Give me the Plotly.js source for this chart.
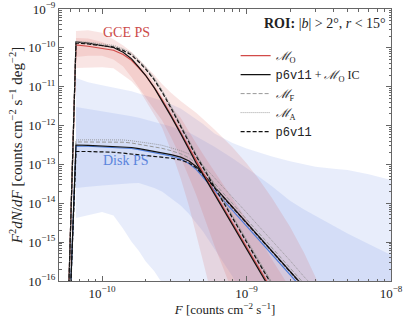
<!DOCTYPE html>
<html>
<head>
<meta charset="utf-8">
<script src="https://cdn.plot.ly/plotly-3.0.1.min.js"></script>
<style>
  html, body { margin: 0; padding: 0; background: #fff; }
  #chart { width: 407px; height: 323px; }
</style>
</head>
<body>
<div id="chart"></div>
<script>
// flux grid [counts cm^-2 s^-1]
var fluxGrid = [6.6e-11, 8e-11, 1e-10, 1.2e-10, 1.4e-10, 1.6e-10, 1.8e-10, 2e-10, 2.3e-10, 2.6e-10,
  3e-10, 3.5e-10, 4e-10, 4.5e-10, 5e-10, 6e-10, 8e-10, 1e-9, 1.2e-9, 1.5e-9, 2e-9, 2.5e-9, 3e-9,
  4e-9, 5e-9, 7e-9, 1e-8];

// low-flux foot of each curve (flux, value)
var gceFootF = 5.8e-11, diskFootF = 5.95e-11, footVal = 1e-17;

// GCE PS curves
var gceMO      = [1.19e-10, 1.10e-10, 9.75e-11, 8.7e-11, 6.75e-11, 4.8e-11, 3.03e-11, 1.95e-11, 9.5e-12, 4.7e-12, 1.87e-12, 6.6e-13, 2.57e-13, 1.19e-13, 6.05e-14, 1.9e-14, 3.08e-15, 7.7e-16, 2.35e-16, 5.67e-17, 9.6e-18, 2.3e-18, 7.3e-19];
var gceP6IC    = [1.42e-10, 1.32e-10, 1.14e-10, 1.02e-10, 7.7e-11, 5.2e-11, 3.16e-11, 1.97e-11, 9.3e-12, 4.45e-12, 1.75e-12, 6.2e-13, 2.35e-13, 1.06e-13, 5.48e-14, 1.73e-14, 2.78e-15, 6.7e-16, 2.12e-16, 5.1e-17, 8.3e-18, 2.0e-18, 6.3e-19];
var gceMF      = [1.38e-10, 1.31e-10, 1.19e-10, 1.09e-10, 8.9e-11, 6.9e-11, 4.6e-11, 3.05e-11, 1.6e-11, 7.9e-12, 3.1e-12, 1.05e-12, 3.9e-13, 1.76e-13, 9.1e-14, 2.8e-14, 4.6e-15, 1.12e-15, 3.5e-16, 8.5e-17, 1.4e-17, 3.4e-18, 1.1e-18];
var gceMA      = [1.47e-10, 1.40e-10, 1.27e-10, 1.16e-10, 9.5e-11, 7.3e-11, 4.85e-11, 3.2e-11, 1.68e-11, 8.2e-12, 3.2e-12, 1.08e-12, 4.0e-13, 1.8e-13, 9.3e-14, 2.9e-14, 4.8e-15, 1.15e-15, 3.6e-16, 8.8e-17, 1.45e-17, 3.5e-18, 1.15e-18];
var gceP6      = [1.33e-10, 1.26e-10, 1.15e-10, 1.05e-10, 8.55e-11, 6.55e-11, 4.32e-11, 2.86e-11, 1.49e-11, 7.3e-12, 2.83e-12, 9.5e-13, 3.56e-13, 1.6e-13, 8.3e-14, 2.55e-14, 4.2e-15, 1.01e-15, 3.2e-16, 7.75e-17, 1.26e-17, 3.1e-18, 1.0e-18];

// Disk PS curves
var diskMO     = [2.98e-13, 2.94e-13, 2.82e-13, 2.74e-13, 2.67e-13, 2.57e-13, 2.41e-13, 2.24e-13, 2.05e-13, 1.89e-13, 1.65e-13, 1.38e-13, 1.06e-13, 7.37e-14, 4.67e-14, 2.16e-14, 6.57e-15, 2.59e-15, 1.2e-15, 4.78e-16, 1.45e-16, 5.6e-17, 2.69e-17];
var diskP6IC   = [3.16e-13, 3.11e-13, 3.0e-13, 2.91e-13, 2.84e-13, 2.73e-13, 2.56e-13, 2.38e-13, 2.19e-13, 2.03e-13, 1.78e-13, 1.54e-13, 1.23e-13, 8.75e-14, 5.64e-14, 2.64e-14, 8.0e-15, 3.17e-15, 1.47e-15, 5.85e-16, 1.77e-16, 6.85e-17, 3.29e-17];
var diskMF     = [3.78e-13, 3.78e-13, 3.78e-13, 3.78e-13, 3.73e-13, 3.56e-13, 3.30e-13, 3.09e-13, 2.84e-13, 2.60e-13, 2.26e-13, 1.88e-13, 1.48e-13, 1.06e-13, 6.98e-14, 3.24e-14, 9.8e-15, 3.87e-15, 1.82e-15, 7.2e-16, 2.16e-16, 8.5e-17, 4.0e-17];
var diskMA     = [4.26e-13, 4.3e-13, 4.35e-13, 4.37e-13, 4.27e-13, 4.06e-13, 3.87e-13, 3.65e-13, 3.36e-13, 3.11e-13, 2.68e-13, 2.26e-13, 1.86e-13, 1.38e-13, 9.4e-14, 4.58e-14, 1.41e-14, 5.8e-15, 2.72e-15, 1.11e-15, 3.37e-16, 1.29e-16, 6.3e-17];
var diskP6     = [2.15e-13, 2.15e-13, 2.14e-13, 2.06e-13, 1.95e-13, 1.85e-13, 1.77e-13, 1.72e-13, 1.62e-13, 1.54e-13, 1.45e-13, 1.30e-13, 1.09e-13, 8.1e-14, 5.35e-14, 2.55e-14, 7.8e-15, 3.11e-15, 1.44e-15, 5.75e-16, 1.74e-16, 6.7e-17, 3.25e-17];

// bands (M_O posterior), on the full flux grid
var gce95Hi  = [2.72e-10, 2.83e-10, 2.44e-10, 1.67e-10, 1.15e-10, 7.8e-11, 5.2e-11, 3.47e-11, 1.99e-11, 1.18e-11, 6.98e-12, 4.3e-12, 3.0e-12, 2.11e-12, 1.48e-12, 7.97e-13, 2.78e-13, 1.08e-13, 4.48e-14, 1.37e-14, 2.48e-15, 5.3e-16, 1.27e-16, 1.17e-17, 1e-18, 1e-19, 1e-20];
var gce95Lo  = [3.03e-11, 3.13e-11, 3.16e-11, 3.0e-11, 1.95e-11, 1.38e-11, 8.43e-12, 4.48e-12, 1.91e-12, 8.97e-13, 2.33e-13, 4.4e-14, 8.4e-15, 1.51e-15, 3.2e-16, 2.1e-17, 1e-19, 1e-20, 1e-20, 1e-20, 1e-20, 1e-20, 1e-20, 1e-20, 1e-20, 1e-20, 1e-20];
var gce68Hi  = [1.79e-10, 1.73e-10, 1.42e-10, 1.05e-10, 7.46e-11, 5.55e-11, 3.56e-11, 2.42e-11, 1.2e-11, 5.4e-12, 3.03e-12, 1.58e-12, 6.95e-13, 3.38e-13, 1.82e-13, 6.58e-14, 1.33e-14, 3.83e-15, 1.39e-15, 3.56e-16, 6.76e-17, 1.8e-17, 4e-18, 1e-19, 1e-20, 1e-20, 1e-20];
var gce68Lo  = [5.82e-11, 6.28e-11, 6.25e-11, 4.99e-11, 3.33e-11, 1.76e-11, 9.54e-12, 5.53e-12, 2.56e-12, 1.38e-12, 5.06e-13, 1.51e-13, 4.67e-14, 1.58e-14, 5.5e-15, 8.1e-16, 5.2e-17, 1e-19, 1e-20, 1e-20, 1e-20, 1e-20, 1e-20, 1e-20, 1e-20, 1e-20, 1e-20];
var disk95Hi = [1.68e-11, 1.31e-11, 1.09e-11, 9.5e-12, 8.6e-12, 7.63e-12, 6.65e-12, 5.91e-12, 5.04e-12, 4.35e-12, 3.53e-12, 2.77e-12, 1.96e-12, 1.44e-12, 1.1e-12, 6.25e-13, 3.58e-13, 2.57e-13, 2.05e-13, 1.59e-13, 1.2e-13, 9.9e-14, 8.7e-14, 7.7e-14, 7.2e-14, 5.55e-14, 3.98e-14];
var disk95Lo = [4.19e-15, 4.94e-15, 5.97e-15, 4.82e-15, 2.21e-15, 1.03e-15, 5.93e-16, 3.2e-16, 1.77e-16, 8.9e-17, 2.9e-17, 1e-18, 1e-19, 1e-20, 1e-20, 1e-20, 1e-20, 1e-20, 1e-20, 1e-20, 1e-20, 1e-20, 1e-20, 1e-20, 1e-20, 1e-20, 1e-20];
var disk68Hi = [3.0e-12, 2.69e-12, 2.36e-12, 2.12e-12, 1.94e-12, 1.75e-12, 1.58e-12, 1.43e-12, 1.26e-12, 1.12e-12, 9.4e-13, 7.8e-13, 6.6e-13, 5.2e-13, 4.18e-13, 2.84e-13, 1.45e-13, 8.3e-14, 5.07e-14, 2.74e-14, 1.17e-14, 6.96e-15, 4.77e-15, 2.58e-15, 1.67e-15, 8.97e-16, 4.68e-16];
var disk68Lo = [2.48e-14, 2.66e-14, 2.87e-14, 3.05e-14, 3.18e-14, 3.27e-14, 3.33e-14, 2.97e-14, 2.48e-14, 2.02e-14, 1.36e-14, 8.8e-15, 5.33e-15, 3.08e-15, 1.87e-15, 6.95e-16, 1.31e-16, 2.42e-17, 1e-19, 1e-20, 1e-20, 1e-20, 1e-20, 1e-20, 1e-20, 1e-20, 1e-20];

var xTickVals = [1e-10, 1e-9, 1e-8];
var xTickText = ['10<sup>−10</sup>', '10<sup>−9</sup>', '10<sup>−8</sup>'];
var yTickVals = [1e-16, 1e-15, 1e-14, 1e-13, 1e-12, 1e-11, 1e-10, 1e-9];
var yTickText = ['10<sup>−16</sup>', '10<sup>−15</sup>', '10<sup>−14</sup>', '10<sup>−13</sup>', '10<sup>−12</sup>', '10<sup>−11</sup>', '10<sup>−10</sup>', '10<sup>−9</sup>'];

var serif = 'Liberation Serif, DejaVu Serif, serif';
var red = '#d24a48', blue = '#4f7fdc';
var redFill = 'rgba(214,80,72,0.15)', blueFill = 'rgba(90,125,230,0.14)';

function band(hi, lo, color) {
  var xs = fluxGrid.concat(fluxGrid.slice().reverse());
  var ys = hi.concat(lo.slice().reverse());
  return {x: xs, y: ys, type: 'scatter', mode: 'lines', fill: 'toself', fillcolor: color,
    line: {width: 0}, hoverinfo: 'skip', showlegend: false};
}

function curve(footF, vals, name, line, show) {
  var xs = [footF].concat(fluxGrid.slice(0, vals.length));
  var ys = [footVal].concat(vals);
  return {x: xs, y: ys, type: 'scatter', mode: 'lines', name: name, line: line, showlegend: show};
}

var p6 = '<span style="font-family:Liberation Mono">p6v11</span>';
var solidBlack = {color: '#111', width: 1.2};
var dashBlack = {color: '#111', width: 1.2, dash: '4px,2px'};
var dashGray = {color: '#999', width: 1, dash: '4px,2px'};
var dotGray = {color: '#8a8a8a', width: 0.8, dash: '1px,1px'};

var data = [
  band(disk95Hi, disk95Lo, blueFill),
  band(disk68Hi, disk68Lo, blueFill),
  band(gce95Hi, gce95Lo, redFill),
  band(gce68Hi, gce68Lo, redFill),
  // disk lines
  curve(diskFootF, diskMA, 'da', dotGray, false),
  curve(diskFootF, diskMF, 'df', dashGray, false),
  curve(diskFootF, diskMO, 'dm', {color: blue, width: 1.2}, false),
  curve(diskFootF, diskP6IC, 'dic', solidBlack, false),
  curve(diskFootF, diskP6, 'dp', dashBlack, false),
  // GCE lines (legend entries)
  curve(gceFootF, gceMO, '<i>ℳ</i><sub>O</sub>', {color: red, width: 1.2}, true),
  curve(gceFootF, gceP6IC, p6 + ' + <i>ℳ</i><sub>O</sub> IC', solidBlack, true),
  curve(gceFootF, gceMF, '<i>ℳ</i><sub>F</sub>', dashGray, true),
  curve(gceFootF, gceMA, '<i>ℳ</i><sub>A</sub>', dotGray, true),
  curve(gceFootF, gceP6, p6, dashBlack, true)
];

var axisCommon = {
  type: 'log', showgrid: false, zeroline: false, showline: true, linecolor: '#666', linewidth: 1,
  mirror: 'allticks', ticks: 'inside', ticklen: 5, tickcolor: '#666', tickmode: 'array',
  tickfont: {family: serif, size: 13, color: '#222'},
  minor: {ticks: 'inside', ticklen: 2.5, tickcolor: '#666', dtick: 'D1', showgrid: false}
};

var layout = {
  width: 407, height: 323,
  margin: {l: 59, r: 16, t: 9, b: 42},
  paper_bgcolor: '#fff', plot_bgcolor: '#fff',
  font: {family: serif, color: '#222'},
  xaxis: Object.assign({}, axisCommon, {
    range: [-10.298, -8], tickvals: xTickVals, ticktext: xTickText,
    title: {text: '<i>F</i> [counts cm<sup>−2</sup> s<sup>−1</sup>]', font: {family: serif, size: 13}, standoff: 4}
  }),
  yaxis: Object.assign({}, axisCommon, {
    range: [-16, -9], tickvals: yTickVals, ticktext: yTickText,
    title: {text: '<i>F</i><sup>2</sup><i>dN</i>/<i>dF</i> [counts cm<sup>−2</sup> s<sup>−1</sup> deg<sup>−2</sup>]', font: {family: serif, size: 15}, standoff: 1}
  }),
  legend: {x: 0.532, y: 0.882, xanchor: 'left', yanchor: 'top', bgcolor: 'rgba(0,0,0,0)',
    font: {family: serif, size: 12, color: '#222'}, traceorder: 'normal'},
  showlegend: true,
  annotations: [
    {xref: 'x', yref: 'y', x: -9.829, y: -9.592, text: 'GCE PS', showarrow: false,
      font: {family: serif, size: 14, color: '#cc4a48'}},
    {xref: 'x', yref: 'y', x: -9.837, y: -12.886, text: 'Disk PS', showarrow: false,
      font: {family: serif, size: 14, color: '#5b84dc'}},
    {xref: 'paper', yref: 'paper', x: 0.99, y: 0.945, xanchor: 'right', yanchor: 'middle',
      text: '<b>ROI:</b> |<i>b</i>| &gt; 2°, <i>r</i> &lt; 15°', showarrow: false,
      font: {family: serif, size: 14, color: '#222'}}
  ]
};

Plotly.newPlot('chart', data, layout, {displayModeBar: false, staticPlot: true});
</script>
</body>
</html>
